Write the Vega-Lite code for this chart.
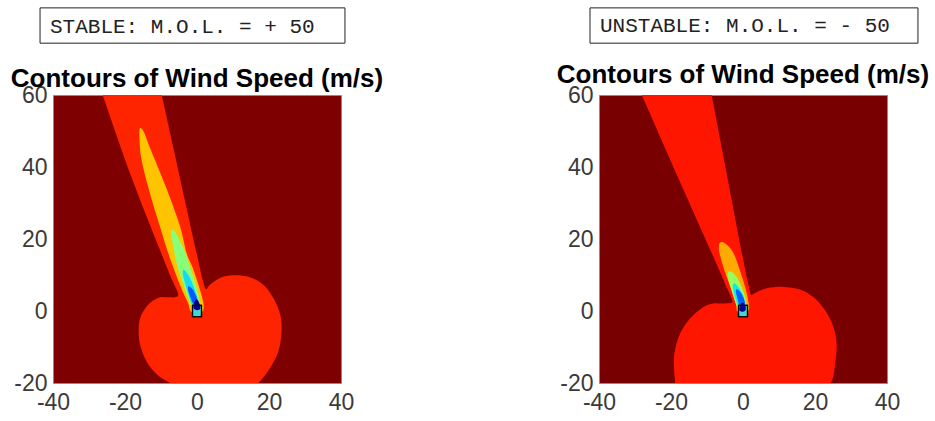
{
"$schema": "https://vega.github.io/schema/vega-lite/v6.json",
"autosize": {"type": "none"},
"padding": {"left": 53, "top": 95, "right": 882, "bottom": 326},
"background": "white",
"config": {
 "axis": {"labelFont": "Liberation Sans", "labelFontSize": 23, "labelColor": "#3a3a3a", "ticks": false, "domain": false, "grid": false, "labelPadding": 6, "labelFlush": false},
 "axisX": {"labelPadding": 8},
 "view": {"stroke": "#8c8c8c"}
},
"datasets": {
 "shapes": [
  {"r":"Sr","i":1,"x":-27.6,"y":64},{"r":"Sr","i":2,"x":-26.2,"y":60},{"r":"Sr","i":3,"x":-18.5,"y":38},{"r":"Sr","i":4,"x":-10.5,"y":17.5},{"r":"Sr","i":5,"x":-7.5,"y":10},{"r":"Sr","i":6,"x":-5.3,"y":5},{"r":"Sr","i":7,"x":-5.8,"y":3.9},{"r":"Sr","i":8,"x":-8,"y":3.8},{"r":"Sr","i":9,"x":-10.3,"y":3.8},{"r":"Sr","i":10,"x":-13.1,"y":2.2},{"r":"Sr","i":11,"x":-15.4,"y":-1.0},{"r":"Sr","i":12,"x":-16.2,"y":-4.7},{"r":"Sr","i":13,"x":-15.8,"y":-9.4},{"r":"Sr","i":14,"x":-14.0,"y":-14.0},{"r":"Sr","i":15,"x":-11.0,"y":-17.7},{"r":"Sr","i":16,"x":-7.5,"y":-20},{"r":"Sr","i":17,"x":-4,"y":-22.5},{"r":"Sr","i":18,"x":4,"y":-23.5},{"r":"Sr","i":19,"x":13,"y":-22.5},{"r":"Sr","i":20,"x":17,"y":-20},{"r":"Sr","i":21,"x":20.3,"y":-15.8},{"r":"Sr","i":22,"x":22.6,"y":-11.2},{"r":"Sr","i":23,"x":23.5,"y":-5.6},{"r":"Sr","i":24,"x":23.1,"y":-1.0},{"r":"Sr","i":25,"x":21.2,"y":3.6},{"r":"Sr","i":26,"x":18.4,"y":7.3},{"r":"Sr","i":27,"x":14.7,"y":9.4},{"r":"Sr","i":28,"x":10.1,"y":9.9},{"r":"Sr","i":29,"x":6.4,"y":9.2},{"r":"Sr","i":30,"x":3.6,"y":7.3},{"r":"Sr","i":31,"x":2.5,"y":6.1},{"r":"Sr","i":32,"x":1.6,"y":8.6},{"r":"Sr","i":33,"x":-0.1,"y":16.1},{"r":"Sr","i":34,"x":-9.8,"y":60},{"r":"Sr","i":35,"x":-10.7,"y":64},
  {"r":"Sy","i":1,"x":-15.8,"y":50.8},{"r":"Sy","i":2,"x":-16.0,"y":48.5},{"r":"Sy","i":3,"x":-15.4,"y":42},{"r":"Sy","i":4,"x":-13.1,"y":32.8},{"r":"Sy","i":5,"x":-10.3,"y":23.5},{"r":"Sy","i":6,"x":-8.0,"y":16.1},{"r":"Sy","i":7,"x":-5.8,"y":10},{"r":"Sy","i":8,"x":-3.8,"y":5},{"r":"Sy","i":9,"x":-2.4,"y":2},{"r":"Sy","i":10,"x":-1.8,"y":0},{"r":"Sy","i":11,"x":0,"y":-1},{"r":"Sy","i":12,"x":1.6,"y":0},{"r":"Sy","i":13,"x":1.8,"y":2},{"r":"Sy","i":14,"x":0.8,"y":6},{"r":"Sy","i":15,"x":-1.2,"y":12},{"r":"Sy","i":16,"x":-2.9,"y":16.1},{"r":"Sy","i":17,"x":-4.7,"y":23.5},{"r":"Sy","i":18,"x":-8.0,"y":32.8},{"r":"Sy","i":19,"x":-11.7,"y":42},{"r":"Sy","i":20,"x":-13.6,"y":46.7},{"r":"Sy","i":21,"x":-14.8,"y":49.8},
  {"r":"Sg","i":1,"x":-7.0,"y":22.6},{"r":"Sg","i":2,"x":-7.2,"y":21},{"r":"Sg","i":3,"x":-6.6,"y":18},{"r":"Sg","i":4,"x":-5.6,"y":13},{"r":"Sg","i":5,"x":-4.0,"y":8},{"r":"Sg","i":6,"x":-2.6,"y":4},{"r":"Sg","i":7,"x":-1.6,"y":1.5},{"r":"Sg","i":8,"x":-0.5,"y":1.0},{"r":"Sg","i":9,"x":0.6,"y":1.6},{"r":"Sg","i":10,"x":0.3,"y":5},{"r":"Sg","i":11,"x":-1.2,"y":10},{"r":"Sg","i":12,"x":-3.0,"y":15.5},{"r":"Sg","i":13,"x":-5.0,"y":20},{"r":"Sg","i":14,"x":-6.2,"y":22.2},
  {"r":"Sc","i":1,"x":-3.8,"y":11.5},{"r":"Sc","i":2,"x":-3.9,"y":10},{"r":"Sc","i":3,"x":-3.4,"y":8},{"r":"Sc","i":4,"x":-2.5,"y":5},{"r":"Sc","i":5,"x":-1.5,"y":2},{"r":"Sc","i":6,"x":-0.4,"y":1.5},{"r":"Sc","i":7,"x":0.4,"y":2.2},{"r":"Sc","i":8,"x":-0.3,"y":5},{"r":"Sc","i":9,"x":-1.6,"y":8.5},{"r":"Sc","i":10,"x":-3.0,"y":10.8},
  {"r":"Sb","i":1,"x":-2.4,"y":6.9},{"r":"Sb","i":2,"x":-2.5,"y":6},{"r":"Sb","i":3,"x":-1.9,"y":4},{"r":"Sb","i":4,"x":-1.0,"y":2},{"r":"Sb","i":5,"x":0.2,"y":2.0},{"r":"Sb","i":6,"x":-0.2,"y":4},{"r":"Sb","i":7,"x":-1.3,"y":6.2},
  {"r":"Sd","i":1,"x":-1.0,"y":0.8},{"r":"Sd","i":2,"x":-0.7,"y":2.6},{"r":"Sd","i":3,"x":0.0,"y":3.2},{"r":"Sd","i":4,"x":0.8,"y":1.8},{"r":"Sd","i":5,"x":0.9,"y":0.6},{"r":"Sd","i":6,"x":0.0,"y":0.2},
  {"r":"Ur","i":1,"x":-29.9,"y":64},{"r":"Ur","i":2,"x":-28.1,"y":60},{"r":"Ur","i":3,"x":-18.0,"y":37},{"r":"Ur","i":4,"x":-7.8,"y":14.1},{"r":"Ur","i":5,"x":-4.5,"y":6.5},{"r":"Ur","i":6,"x":-3.0,"y":3.0},{"r":"Ur","i":7,"x":-3.6,"y":2.2},{"r":"Ur","i":8,"x":-6,"y":2.1},{"r":"Ur","i":9,"x":-8.2,"y":2.1},{"r":"Ur","i":10,"x":-11.0,"y":1.1},{"r":"Ur","i":11,"x":-14.7,"y":-2.1},{"r":"Ur","i":12,"x":-17.5,"y":-6.3},{"r":"Ur","i":13,"x":-18.9,"y":-10.9},{"r":"Ur","i":14,"x":-19.2,"y":-14.6},{"r":"Ur","i":15,"x":-18.8,"y":-20},{"r":"Ur","i":16,"x":-18,"y":-23},{"r":"Ur","i":17,"x":0,"y":-24.5},{"r":"Ur","i":18,"x":20,"y":-23.5},{"r":"Ur","i":19,"x":24.4,"y":-20},{"r":"Ur","i":20,"x":25.6,"y":-14.6},{"r":"Ur","i":21,"x":26.0,"y":-9.1},{"r":"Ur","i":22,"x":25.1,"y":-4.4},{"r":"Ur","i":23,"x":22.8,"y":0.2},{"r":"Ur","i":24,"x":19.5,"y":3.9},{"r":"Ur","i":25,"x":15.8,"y":6.0},{"r":"Ur","i":26,"x":11.2,"y":6.7},{"r":"Ur","i":27,"x":6.6,"y":6.3},{"r":"Ur","i":28,"x":3.3,"y":5.0},{"r":"Ur","i":29,"x":2.2,"y":4.6},{"r":"Ur","i":30,"x":1.5,"y":7.5},{"r":"Ur","i":31,"x":0.1,"y":14.1},{"r":"Ur","i":32,"x":-8.7,"y":60},{"r":"Ur","i":33,"x":-9.5,"y":64},
  {"r":"Uy","i":1,"x":-6.4,"y":19.0},{"r":"Uy","i":2,"x":-6.7,"y":17.8},{"r":"Uy","i":3,"x":-6.5,"y":16},{"r":"Uy","i":4,"x":-5.2,"y":11.4},{"r":"Uy","i":5,"x":-3.5,"y":6.7},{"r":"Uy","i":6,"x":-2.0,"y":2.1},{"r":"Uy","i":7,"x":-1.6,"y":0},{"r":"Uy","i":8,"x":0,"y":-0.8},{"r":"Uy","i":9,"x":1.5,"y":0},{"r":"Uy","i":10,"x":1.6,"y":2.1},{"r":"Uy","i":11,"x":0.6,"y":6.7},{"r":"Uy","i":12,"x":-0.9,"y":11.4},{"r":"Uy","i":13,"x":-2.6,"y":16},{"r":"Uy","i":14,"x":-4.4,"y":18.3},{"r":"Uy","i":15,"x":-5.6,"y":19.1},
  {"r":"Ug","i":1,"x":-4.1,"y":10.9},{"r":"Ug","i":2,"x":-4.2,"y":9.5},{"r":"Ug","i":3,"x":-3.4,"y":6.5},{"r":"Ug","i":4,"x":-2.3,"y":3},{"r":"Ug","i":5,"x":-1.4,"y":0.8},{"r":"Ug","i":6,"x":0,"y":0.2},{"r":"Ug","i":7,"x":0.9,"y":0.8},{"r":"Ug","i":8,"x":0.8,"y":3},{"r":"Ug","i":9,"x":-0.3,"y":6.5},{"r":"Ug","i":10,"x":-1.8,"y":9.5},{"r":"Ug","i":11,"x":-3.3,"y":10.9},
  {"r":"Uc","i":1,"x":-2.7,"y":7.6},{"r":"Uc","i":2,"x":-2.8,"y":6.5},{"r":"Uc","i":3,"x":-2.2,"y":4},{"r":"Uc","i":4,"x":-1.3,"y":1.5},{"r":"Uc","i":5,"x":0.5,"y":1.2},{"r":"Uc","i":6,"x":0.3,"y":3.5},{"r":"Uc","i":7,"x":-0.8,"y":6},{"r":"Uc","i":8,"x":-2.0,"y":7.4},
  {"r":"Ub","i":1,"x":-1.9,"y":6.0},{"r":"Ub","i":2,"x":-1.9,"y":5},{"r":"Ub","i":3,"x":-1.4,"y":3},{"r":"Ub","i":4,"x":-0.9,"y":1.5},{"r":"Ub","i":5,"x":0.6,"y":1.5},{"r":"Ub","i":6,"x":0.1,"y":3.8},{"r":"Ub","i":7,"x":-1.0,"y":5.6},
  {"r":"Ud","i":1,"x":-1.0,"y":0.2},{"r":"Ud","i":2,"x":-0.8,"y":1.8},{"r":"Ud","i":3,"x":0.0,"y":2.3},{"r":"Ud","i":4,"x":0.7,"y":1.3},{"r":"Ud","i":5,"x":0.7,"y":0.2},{"r":"Ud","i":6,"x":0,"y":-0.2}
 ],
 "boxes": [
  {"p":"S","x":-1.25,"x2":1.25,"y":-1.6,"y2":1.6},
  {"p":"U","x":-1.25,"x2":1.25,"y":-1.6,"y2":1.6}
 ],
 "labels": [
  {"p":"S","label":"STABLE: M.O.L. = + 50","title":"Contours of Wind Speed (m/s)"},
  {"p":"U","label":"UNSTABLE: M.O.L. = - 50","title":"Contours of Wind Speed (m/s)"}
 ]
},
"spacing": 258,
"bounds": "flush",
"hconcat": [
 {
  "width": 288, "height": 288,
  "view": {"fill": "#7f0000", "stroke": "#8c8c8c"},
  "layer": [
   {"data": {"name": "shapes"}, "transform": [{"filter": "datum.r == 'Sr'"}], "mark": {"type": "line", "filled": true, "clip": true, "interpolate": "cardinal-closed", "color": "#ff2400"},
    "encoding": {
     "x": {"field": "x", "type": "quantitative", "title": null, "scale": {"domain": [-40, 40], "nice": false, "zero": false}, "axis": {"values": [-40, -20, 0, 20, 40], "title": null, "labelExpr": "'' + datum.value"}},
     "y": {"field": "y", "type": "quantitative", "title": null, "scale": {"domain": [-20, 60], "nice": false, "zero": false}, "axis": {"values": [-20, 0, 20, 40, 60], "title": null, "labelExpr": "'' + datum.value"}},
     "order": {"field": "i", "type": "quantitative"}}},
   {"data": {"name": "shapes"}, "transform": [{"filter": "datum.r == 'Sy'"}], "mark": {"type": "line", "filled": true, "clip": true, "interpolate": "cardinal-closed", "color": "#ffc400"}, "encoding": {"x": {"field": "x", "type": "quantitative", "title": null}, "y": {"field": "y", "type": "quantitative", "title": null}, "order": {"field": "i", "type": "quantitative"}}},
   {"data": {"name": "shapes"}, "transform": [{"filter": "datum.r == 'Sg'"}], "mark": {"type": "line", "filled": true, "clip": true, "interpolate": "cardinal-closed", "color": "#88ff78"}, "encoding": {"x": {"field": "x", "type": "quantitative", "title": null}, "y": {"field": "y", "type": "quantitative", "title": null}, "order": {"field": "i", "type": "quantitative"}}},
   {"data": {"name": "shapes"}, "transform": [{"filter": "datum.r == 'Sc'"}], "mark": {"type": "line", "filled": true, "clip": true, "interpolate": "cardinal-closed", "color": "#18d8f8"}, "encoding": {"x": {"field": "x", "type": "quantitative", "title": null}, "y": {"field": "y", "type": "quantitative", "title": null}, "order": {"field": "i", "type": "quantitative"}}},
   {"data": {"name": "boxes"}, "transform": [{"filter": "datum.p == 'S'"}], "mark": {"type": "rect", "fill": "#40d8d0", "stroke": "#000000", "strokeWidth": 1.2}, "encoding": {"x": {"field": "x", "type": "quantitative", "title": null}, "x2": {"field": "x2"}, "y": {"field": "y", "type": "quantitative", "title": null}, "y2": {"field": "y2"}}},
   {"data": {"name": "shapes"}, "transform": [{"filter": "datum.r == 'Sb'"}], "mark": {"type": "line", "filled": true, "clip": true, "interpolate": "cardinal-closed", "color": "#0058ff"}, "encoding": {"x": {"field": "x", "type": "quantitative", "title": null}, "y": {"field": "y", "type": "quantitative", "title": null}, "order": {"field": "i", "type": "quantitative"}}},
   {"data": {"name": "shapes"}, "transform": [{"filter": "datum.r == 'Sd'"}], "mark": {"type": "line", "filled": true, "clip": true, "interpolate": "cardinal-closed", "color": "#00008c"}, "encoding": {"x": {"field": "x", "type": "quantitative", "title": null}, "y": {"field": "y", "type": "quantitative", "title": null}, "order": {"field": "i", "type": "quantitative"}}},
   {"data": {"name": "boxes"}, "transform": [{"filter": "datum.p == 'S'"}], "mark": {"type": "rect", "filled": false, "stroke": "#000000", "strokeWidth": 1.2}, "encoding": {"x": {"field": "x", "type": "quantitative", "title": null}, "x2": {"field": "x2"}, "y": {"field": "y", "type": "quantitative", "title": null}, "y2": {"field": "y2"}}},
   {"data": {"name": "labels"}, "transform": [{"filter": "datum.p == 'S'"}], "mark": {"type": "rect", "fill": "#ffffff", "stroke": "#222222", "strokeWidth": 1},
    "encoding": {"x": {"datum": -43.6, "type": "quantitative", "title": null}, "x2": {"datum": 41.1}, "y": {"datum": 84.2, "type": "quantitative", "title": null}, "y2": {"datum": 74.4}}},
   {"data": {"name": "labels"}, "transform": [{"filter": "datum.p == 'S'"}], "mark": {"type": "text", "font": "Liberation Mono", "fontSize": 21, "align": "left", "baseline": "alphabetic", "color": "#222222"},
    "encoding": {"x": {"datum": -40.83, "type": "quantitative", "title": null}, "y": {"datum": 77.2, "type": "quantitative", "title": null}, "text": {"field": "label"}}},
   {"data": {"name": "labels"}, "transform": [{"filter": "datum.p == 'S'"}], "mark": {"type": "text", "font": "Liberation Sans", "fontSize": 26, "fontWeight": "bold", "align": "center", "baseline": "alphabetic", "color": "#000000"},
    "encoding": {"x": {"datum": 0, "type": "quantitative", "title": null}, "y": {"datum": 62.3, "type": "quantitative", "title": null}, "text": {"field": "title"}}}
  ]
 },
 {
  "width": 288, "height": 288,
  "view": {"fill": "#780000", "stroke": "#8c8c8c"},
  "layer": [
   {"data": {"name": "shapes"}, "transform": [{"filter": "datum.r == 'Ur'"}], "mark": {"type": "line", "filled": true, "clip": true, "interpolate": "cardinal-closed", "color": "#ff1600"},
    "encoding": {
     "x": {"field": "x", "type": "quantitative", "title": null, "scale": {"domain": [-40, 40], "nice": false, "zero": false}, "axis": {"values": [-40, -20, 0, 20, 40], "title": null, "labelExpr": "'' + datum.value"}},
     "y": {"field": "y", "type": "quantitative", "title": null, "scale": {"domain": [-20, 60], "nice": false, "zero": false}, "axis": {"values": [-20, 0, 20, 40, 60], "title": null, "labelExpr": "'' + datum.value"}},
     "order": {"field": "i", "type": "quantitative"}}},
   {"data": {"name": "shapes"}, "transform": [{"filter": "datum.r == 'Uy'"}], "mark": {"type": "line", "filled": true, "clip": true, "interpolate": "cardinal-closed", "color": "#ffaa00"}, "encoding": {"x": {"field": "x", "type": "quantitative", "title": null}, "y": {"field": "y", "type": "quantitative", "title": null}, "order": {"field": "i", "type": "quantitative"}}},
   {"data": {"name": "shapes"}, "transform": [{"filter": "datum.r == 'Ug'"}], "mark": {"type": "line", "filled": true, "clip": true, "interpolate": "cardinal-closed", "color": "#98ff60"}, "encoding": {"x": {"field": "x", "type": "quantitative", "title": null}, "y": {"field": "y", "type": "quantitative", "title": null}, "order": {"field": "i", "type": "quantitative"}}},
   {"data": {"name": "shapes"}, "transform": [{"filter": "datum.r == 'Uc'"}], "mark": {"type": "line", "filled": true, "clip": true, "interpolate": "cardinal-closed", "color": "#10e8f0"}, "encoding": {"x": {"field": "x", "type": "quantitative", "title": null}, "y": {"field": "y", "type": "quantitative", "title": null}, "order": {"field": "i", "type": "quantitative"}}},
   {"data": {"name": "boxes"}, "transform": [{"filter": "datum.p == 'U'"}], "mark": {"type": "rect", "fill": "#40d8d0", "stroke": "#000000", "strokeWidth": 1.2}, "encoding": {"x": {"field": "x", "type": "quantitative", "title": null}, "x2": {"field": "x2"}, "y": {"field": "y", "type": "quantitative", "title": null}, "y2": {"field": "y2"}}},
   {"data": {"name": "shapes"}, "transform": [{"filter": "datum.r == 'Ub'"}], "mark": {"type": "line", "filled": true, "clip": true, "interpolate": "cardinal-closed", "color": "#0060ff"}, "encoding": {"x": {"field": "x", "type": "quantitative", "title": null}, "y": {"field": "y", "type": "quantitative", "title": null}, "order": {"field": "i", "type": "quantitative"}}},
   {"data": {"name": "shapes"}, "transform": [{"filter": "datum.r == 'Ud'"}], "mark": {"type": "line", "filled": true, "clip": true, "interpolate": "cardinal-closed", "color": "#000090"}, "encoding": {"x": {"field": "x", "type": "quantitative", "title": null}, "y": {"field": "y", "type": "quantitative", "title": null}, "order": {"field": "i", "type": "quantitative"}}},
   {"data": {"name": "boxes"}, "transform": [{"filter": "datum.p == 'U'"}], "mark": {"type": "rect", "filled": false, "stroke": "#000000", "strokeWidth": 1.2}, "encoding": {"x": {"field": "x", "type": "quantitative", "title": null}, "x2": {"field": "x2"}, "y": {"field": "y", "type": "quantitative", "title": null}, "y2": {"field": "y2"}}},
   {"data": {"name": "labels"}, "transform": [{"filter": "datum.p == 'U'"}], "mark": {"type": "rect", "fill": "#ffffff", "stroke": "#222222", "strokeWidth": 1},
    "encoding": {"x": {"datum": -42.5, "type": "quantitative", "title": null}, "x2": {"datum": 48.6}, "y": {"datum": 84.2, "type": "quantitative", "title": null}, "y2": {"datum": 74.4}}},
   {"data": {"name": "labels"}, "transform": [{"filter": "datum.p == 'U'"}], "mark": {"type": "text", "font": "Liberation Mono", "fontSize": 21, "align": "left", "baseline": "alphabetic", "color": "#222222"},
    "encoding": {"x": {"datum": -39.72, "type": "quantitative", "title": null}, "y": {"datum": 77.5, "type": "quantitative", "title": null}, "text": {"field": "label"}}},
   {"data": {"name": "labels"}, "transform": [{"filter": "datum.p == 'U'"}], "mark": {"type": "text", "font": "Liberation Sans", "fontSize": 26, "fontWeight": "bold", "align": "center", "baseline": "alphabetic", "color": "#000000"},
    "encoding": {"x": {"datum": 0, "type": "quantitative", "title": null}, "y": {"datum": 63.2, "type": "quantitative", "title": null}, "text": {"field": "title"}}}
  ]
 }
]
}
